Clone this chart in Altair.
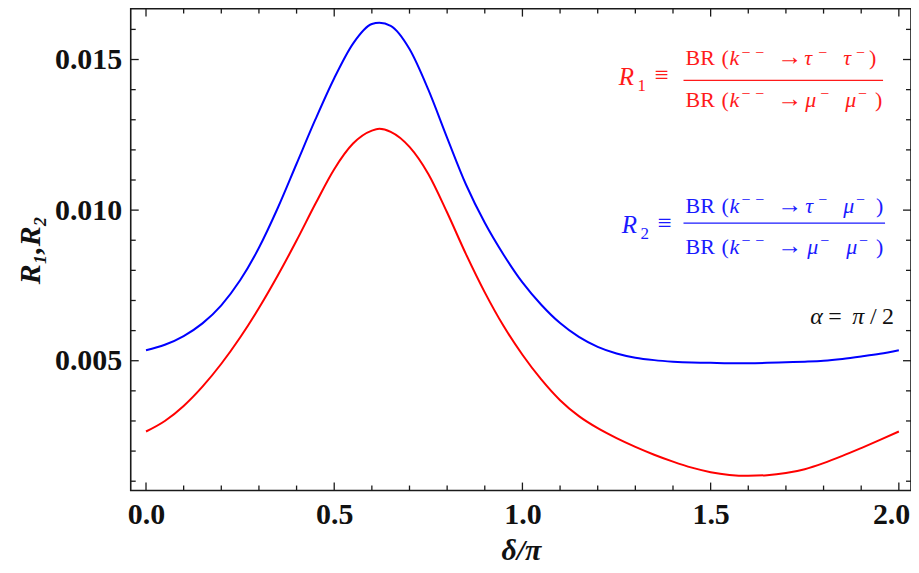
import altair as alt
import pandas as pd

# ---------------- data ----------------
delta = [0.00, 0.05, 0.10, 0.15, 0.20, 0.25, 0.30, 0.35, 0.40, 0.45, 0.50, 0.55,
         0.60, 0.62, 0.65, 0.70, 0.75, 0.80, 0.85, 0.90, 0.95, 1.00, 1.05, 1.10,
         1.15, 1.20, 1.25, 1.30, 1.35, 1.40, 1.45, 1.50, 1.55, 1.60, 1.65, 1.70,
         1.75, 1.80, 1.85, 1.90, 1.95, 2.00]

r1 = [0.00265, 0.00300, 0.00350, 0.00414, 0.00490, 0.00577, 0.00675, 0.00783,
      0.00899, 0.01021, 0.01136, 0.01221, 0.01264, 0.01270, 0.01260, 0.01210,
      0.01120, 0.00992, 0.00854, 0.00727, 0.00615, 0.00520, 0.00438, 0.00369,
      0.00316, 0.00276, 0.00243, 0.00214, 0.00188, 0.00165, 0.00145, 0.00130,
      0.00121, 0.00118, 0.00120, 0.00127, 0.00140, 0.00160, 0.00184, 0.00210,
      0.00237, 0.00265]

r2 = [0.00535, 0.00553, 0.00582, 0.00624, 0.00684, 0.00767, 0.00875, 0.01007,
      0.01154, 0.01301, 0.01438, 0.01553, 0.01618, 0.01622, 0.01612, 0.01535,
      0.01400, 0.01240, 0.01085, 0.00958, 0.00852, 0.00760, 0.00686, 0.00625,
      0.00579, 0.00546, 0.00524, 0.00510, 0.00502, 0.00497, 0.00494, 0.00493,
      0.00492, 0.00492, 0.00493, 0.00495, 0.00497, 0.00500, 0.00506, 0.00514,
      0.00523, 0.00535]

series_names = ["R1", "R2"]
series_colors = ["#ff0000", "#0000ff"]

x_labels = [0.0, 0.5, 1.0, 1.5, 2.0]
x_minor = [0.1, 0.2, 0.3, 0.4, 0.6, 0.7, 0.8, 0.9, 1.1, 1.2, 1.3, 1.4, 1.6, 1.7, 1.8, 1.9]
y_labels = [0.005, 0.010, 0.015]
y_minor = [0.001, 0.002, 0.003, 0.004, 0.006, 0.007, 0.008, 0.009, 0.011, 0.012,
           0.013, 0.014, 0.016]

x_domain = [-0.0406, 2.0323]
y_domain = [0.00069, 0.01669]

# ---------------- layout / style ----------------
W, H = 782, 483
OX, OY = 131, 8          # page position of the plot origin
FONT = "Liberation Serif"
FRAME = "#1a1a1a"
RED, BLUE, BLACK = "#ff1a1a", "#1a1aff", "#111111"

xs = alt.Scale(domain=x_domain, nice=False, zero=False)
ys = alt.Scale(domain=y_domain, nice=False, zero=False)

curves = pd.DataFrame({
    "delta": delta * 2,
    "R": r1 + r2,
    "series": [series_names[0]] * len(delta) + [series_names[1]] * len(delta),
})

# labelFlush=14 only catches the "2.0" label (12 px from the right edge), which
# is right-aligned and pushed 11 px outward so that it stays inside the page.
x_axis = alt.Axis(values=x_labels, format=".1f", title="δ/π",
                  ticks=False, domain=False, grid=False,
                  labelFont=FONT, labelFontWeight="bold", labelFontSize=30,
                  labelColor=BLACK, labelPadding=9, labelFlush=14,
                  labelFlushOffset=11, labelOverlap=False,
                  titleFont=FONT, titleFontStyle="italic", titleFontWeight="bold",
                  titleFontSize=30, titleColor=BLACK, titlePadding=6)
y_axis = alt.Axis(values=y_labels, format=".3f", title="R₁,R₂",
                  ticks=False, domain=False, grid=False,
                  labelFont=FONT, labelFontWeight="bold", labelFontSize=30,
                  labelColor=BLACK, labelPadding=9, labelFlush=False,
                  labelOverlap=False,
                  titleFont=FONT, titleFontStyle="italic", titleFontWeight="bold",
                  titleFontSize=30, titleColor=BLACK, titlePadding=9)

lines = alt.Chart(curves).mark_line(strokeWidth=2, interpolate="monotone").encode(
    x=alt.X("delta:Q", scale=xs, axis=x_axis),
    y=alt.Y("R:Q", scale=ys, axis=y_axis),
    color=alt.Color("series:N", scale=alt.Scale(domain=series_names, range=series_colors),
                    legend=None),
)


def xticks(vals, length, top):
    df = pd.DataFrame({"delta": vals})
    y0, y1 = (0, length) if top else (H, H - length)
    return alt.Chart(df).mark_rule(color=FRAME, strokeWidth=1.3).encode(
        x=alt.X("delta:Q", scale=xs, axis=x_axis), y=alt.value(y0), y2=alt.value(y1))


def yticks(vals, length, right):
    df = pd.DataFrame({"R": vals})
    x0, x1 = (W, W - length) if right else (0, length)
    return alt.Chart(df).mark_rule(color=FRAME, strokeWidth=1.3).encode(
        y=alt.Y("R:Q", scale=ys, axis=y_axis), x=alt.value(x0), x2=alt.value(x1))


ONE = pd.DataFrame({"k": [0]})


def txt(s, xp, yp, color, size=22, style="normal"):
    return alt.Chart(ONE).mark_text(
        text=s, font=FONT, fontSize=size, fontStyle=style, color=color,
        align="left", baseline="alphabetic",
    ).encode(x=alt.value(xp - OX), y=alt.value(yp - OY))


def bar(x1, x2, yp, color):
    return alt.Chart(ONE).mark_rule(color=color, strokeWidth=1.3).encode(
        x=alt.value(x1 - OX), x2=alt.value(x2 - OX), y=alt.value(yp - OY))


def br_line(base, sup, g1, g2, color, xg1, xs1, xg2, xs2, xclose):
    it = "italic"
    return [
        txt("BR", 687, base, color),
        txt("(", 723, base, color),
        txt("k", 731, base, color, style=it),
        txt("−", 743, sup, color, size=16),
        txt("−", 757, sup, color, size=16),
        txt("→", 779, base, color, size=25),
        txt(g1, xg1, base, color, style=it),
        txt("−", xs1, sup, color, size=16),
        txt(g2, xg2, base, color, style=it),
        txt("−", xs2, sup, color, size=16),
        txt(")", xclose, base, color),
    ]


ann = []
# R1 block
ann += [txt("R", 620, 85, RED, size=25, style="italic"), txt("1", 639, 91, RED, size=17),
        txt("≡", 656, 83, RED, size=25), bar(685, 885, 80, RED)]
ann += br_line(65, 57, "τ", "τ", RED, 806, 820, 845, 858, 871)
ann += br_line(107, 99, "μ", "μ", RED, 807, 822, 847, 860, 877)
# R2 block
ann += [txt("R", 623, 233, BLUE, size=25, style="italic"), txt("2", 642, 239, BLUE, size=17),
        txt("≡", 659, 231, BLUE, size=25), bar(685, 887, 223, BLUE)]
ann += br_line(213, 205, "τ", "μ", BLUE, 807, 820, 845, 858, 878)
ann += br_line(254, 246, "μ", "μ", BLUE, 809, 822, 848, 861, 878)
# alpha
ann += [txt("α", 812, 324, BLACK, size=24, style="italic"), txt("=", 830, 324, BLACK, size=24),
        txt("π", 854, 324, BLACK, size=24, style="italic"), txt("/", 872, 324, BLACK, size=24),
        txt("2", 884, 324, BLACK, size=24)]

layers = [lines,
          xticks(x_labels, 8, False), xticks(x_minor, 5, False),
          xticks(x_labels, 8, True), xticks(x_minor, 5, True),
          yticks(y_labels, 8, False), yticks(y_minor, 5, False),
          yticks(y_labels, 8, True), yticks(y_minor, 5, True)] + ann

chart = alt.layer(*layers).properties(
    width=W, height=H,
    autosize=alt.AutoSizeParams(type="none"),
    padding={"left": 123, "top": 0, "right": 0, "bottom": 74},
    background="white",
).configure_view(stroke=FRAME, strokeWidth=1.6)

chart.save("out.html", embed_options={"renderer": "svg", "actions": False})
